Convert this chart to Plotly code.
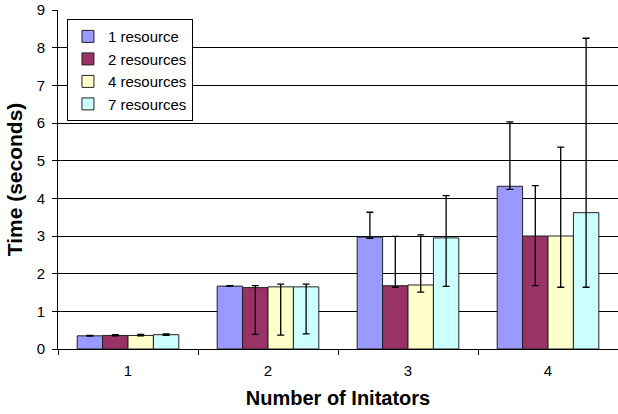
import plotly.graph_objects as go

categories = ["1", "2", "3", "4"]
series_names = ["1 resource", "2 resources", "4 resources", "7 resources"]
colors = ["#9999FF", "#993366", "#FFFFCC", "#CCFFFF"]

r1 = [0.35, 1.67, 2.97, 4.32]
r2 = [0.36, 1.63, 1.68, 3.00]
r4 = [0.36, 1.65, 1.70, 3.00]
r7 = [0.38, 1.65, 2.95, 3.62]

r1_plus = [0.01, 0.01, 0.66, 1.71]
r1_minus = [0.01, 0.01, 0.03, 0.08]
r2_plus = [0.02, 0.05, 1.31, 1.34]
r2_minus = [0.01, 1.24, 0.04, 1.32]
r4_plus = [0.03, 0.07, 1.33, 2.36]
r4_minus = [0.01, 1.28, 0.19, 1.36]
r7_plus = [0.02, 0.07, 1.12, 4.63]
r7_minus = [0.02, 1.25, 1.29, 1.98]

values = [r1, r2, r4, r7]
plus = [r1_plus, r2_plus, r4_plus, r7_plus]
minus = [r1_minus, r2_minus, r4_minus, r7_minus]

y_ticks = list(range(0, 10))

fig = go.Figure()
for name, col, v, p, m in zip(series_names, colors, values, plus, minus):
    fig.add_trace(go.Bar(
        x=categories, y=v, name=name,
        marker=dict(color=col, line=dict(color="#222222", width=1)),
        error_y=dict(type="data", array=p, arrayminus=m, symmetric=False,
                     color="black", thickness=1.3, width=3.5),
    ))

fig.update_layout(
    width=618, height=414,
    margin=dict(l=58, r=0, t=10, b=65),
    paper_bgcolor="white", plot_bgcolor="white",
    barmode="group", bargap=0.274, bargroupgap=0,
    font=dict(family="Liberation Sans, Arial, sans-serif", size=15, color="black"),
    legend=dict(
        x=0.016, y=0.973, xanchor="left", yanchor="top",
        bordercolor="black", borderwidth=1, bgcolor="white",
        font=dict(size=15), tracegroupgap=0, itemwidth=30,
    ),
    xaxis=dict(
        title=dict(text="<b>Number of Initators</b>", font=dict(size=20), standoff=12),
        showline=True, linecolor="black", linewidth=1,
        ticks="outside", tickson="boundaries", ticklen=5, tickcolor="black",
        ticklabelstandoff=8, tickfont=dict(size=15),
        showgrid=False,
    ),
    yaxis=dict(
        title=dict(text="<b>Time (seconds)</b>", font=dict(size=21), standoff=8),
        range=[0, 9], tickvals=y_ticks, ticktext=[str(t) for t in y_ticks],
        showline=True, linecolor="black", linewidth=1,
        ticks="outside", ticklen=5, tickcolor="black",
        ticklabelstandoff=4, tickfont=dict(size=15),
        showgrid=True, gridcolor="black", gridwidth=1,
        zeroline=False,
    ),
)

fig.write_html("out.html", config={"displayModeBar": False},
               post_script="document.body.style.margin='0px';")
